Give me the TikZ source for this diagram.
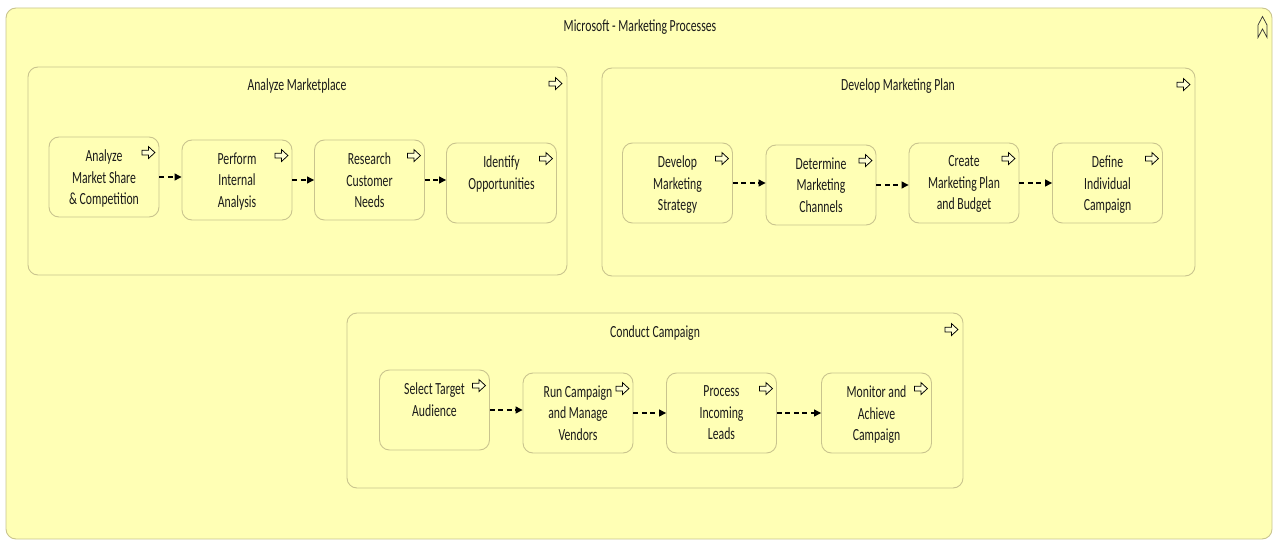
\documentclass[tikz,border=0pt]{standalone}
\usepackage{fontspec}
\setmainfont{Carlito}[FakeStretch=0.69]
\usetikzlibrary{arrows.meta}

\definecolor{paper}{HTML}{FFFFFF}
\definecolor{bgyellow}{HTML}{FFFFB5}
\definecolor{boxyellow}{HTML}{FFFFB5}
\definecolor{edgeolive}{HTML}{C9C48E}
\definecolor{inkgray}{HTML}{1A1A1A}

\tikzset{
  outerbox/.style={draw=edgeolive, fill=bgyellow, line width=0.9pt, rounded corners=10pt, inner sep=0pt},
  groupbox/.style={draw=edgeolive, fill=boxyellow, line width=0.9pt, rounded corners=10pt, inner sep=0pt},
  procbox/.style={draw=edgeolive, fill=boxyellow, line width=0.9pt, rounded corners=10pt,
    minimum width=110pt, minimum height=80pt, inner sep=0pt},
  labeltext/.style={text=inkgray, font=\fontsize{17}{21.5}\selectfont, inner sep=0pt},
  proctext/.style={labeltext, anchor=north, align=center},
  flow/.style={draw=black, line width=1.2pt, dash pattern=on 5pt off 3.5pt,
    -{Triangle[length=7pt,width=7pt]}},
  flowicon/.pic={
    \draw[black, line width=0.75pt, line join=miter, fill=white!40!boxyellow]
      (-6.5,-2.4) -- (0,-2.4) -- (0,-6) -- (6.5,0) -- (0,6) -- (0,2.4) -- (-6.5,2.4) -- cycle;
  },
  collapseicon/.pic={
    \draw[black!80, line width=0.7pt, line join=miter]
      (0,-10.5) -- (4.5,-2) -- (4.5,10.5) -- (0,2) -- (-4.5,10.5) -- (-4.5,-2) -- cycle;
  }
}

\begin{document}
\begin{tikzpicture}[x=1pt, y=-1pt]
  \useasboundingbox[fill=paper] (0,0) rectangle (1276,540);

  % enclosing frame
  \node[outerbox, minimum width=1266pt, minimum height=531pt] (frame) at (639,273.5) {};
  \node[labeltext] (frametitle) at (640,27) {Microsoft - Marketing Processes};
  \pic at (1262.5,27) {collapseicon};

  % process groups
  \node[groupbox, minimum width=539pt, minimum height=208pt] (market) at (297.5,171) {};
  \node[labeltext] (markettitle) at (297,86) {Analyze Marketplace};
  \pic at ([shift={(-12,17)}]market.north east) {flowicon};

  \node[groupbox, minimum width=593pt, minimum height=208pt] (plan) at (898.5,172) {};
  \node[labeltext] (plantitle) at (898,86) {Develop Marketing Plan};
  \pic at ([shift={(-12,17)}]plan.north east) {flowicon};

  \node[groupbox, minimum width=616pt, minimum height=175pt] (campaign) at (655,400.5) {};
  \node[labeltext] (campaigntitle) at (655,333) {Conduct Campaign};
  \pic at ([shift={(-12,17)}]campaign.north east) {flowicon};

  % Analyze Marketplace steps
  \node[procbox] (a1) at (104,177) {};
  \node[procbox] (a2) at (237,180) {};
  \node[procbox] (a3) at (369.5,180) {};
  \node[procbox] (a4) at (501.5,183) {};
  \node[proctext] (a1t) at ([yshift=-13pt]a1.north) {Analyze\\Market Share\\\& Competition};
  \node[proctext] (a2t) at ([yshift=-13pt]a2.north) {Perform\\Internal\\Analysis};
  \node[proctext] (a3t) at ([yshift=-13pt]a3.north) {Research\\Customer\\Needs};
  \node[proctext] (a4t) at ([yshift=-13pt]a4.north) {Identify\\Opportunities};

  % Develop Marketing Plan steps
  \node[procbox] (d1) at (677.5,183) {};
  \node[procbox] (d2) at (821,185) {};
  \node[procbox] (d3) at (964,183) {};
  \node[procbox] (d4) at (1107.5,183) {};
  \node[proctext] (d1t) at ([yshift=-13pt]d1.north) {Develop\\Marketing\\Strategy};
  \node[proctext] (d2t) at ([yshift=-13pt]d2.north) {Determine\\Marketing\\Channels};
  \node[proctext] (d3t) at ([yshift=-13pt]d3.north) {Create\\Marketing Plan\\and Budget};
  \node[proctext] (d4t) at ([yshift=-13pt]d4.north) {Define\\Individual\\Campaign};

  % Conduct Campaign steps
  \node[procbox] (c1) at (434.5,410) {};
  \node[procbox] (c2) at (578,413) {};
  \node[procbox] (c3) at (721.5,413) {};
  \node[procbox] (c4) at (876.5,413) {};
  \node[proctext] (c1t) at ([yshift=-13pt]c1.north) {Select Target\\Audience};
  \node[proctext] (c2t) at ([yshift=-13pt]c2.north) {Run Campaign\\and Manage\\Vendors};
  \node[proctext] (c3t) at ([yshift=-13pt]c3.north) {Process\\Incoming\\Leads};
  \node[proctext] (c4t) at ([yshift=-13pt]c4.north) {Monitor and\\Achieve\\Campaign};

  % step markers
  \foreach \s in {a1,a2,a3,a4,d1,d2,d3,d4,c1,c2,c3,c4}
    \pic at ([shift={(-11,16)}]\s.north east) {flowicon};

  % triggering flows
  \draw[flow] (a1.east) -- (a1.east -| a2.west);
  \draw[flow] (a2.east) -- (a2.east -| a3.west);
  \draw[flow] (a3.east) -- (a3.east -| a4.west);
  \draw[flow] (d1.east) -- (d1.east -| d2.west);
  \draw[flow] (d2.east) -- (d2.east -| d3.west);
  \draw[flow] (d3.east) -- (d3.east -| d4.west);
  \draw[flow] (c1.east) -- (c1.east -| c2.west);
  \draw[flow] (c2.east) -- (c2.east -| c3.west);
  \draw[flow] (c3.east) -- (c3.east -| c4.west);
\end{tikzpicture}
\end{document}
